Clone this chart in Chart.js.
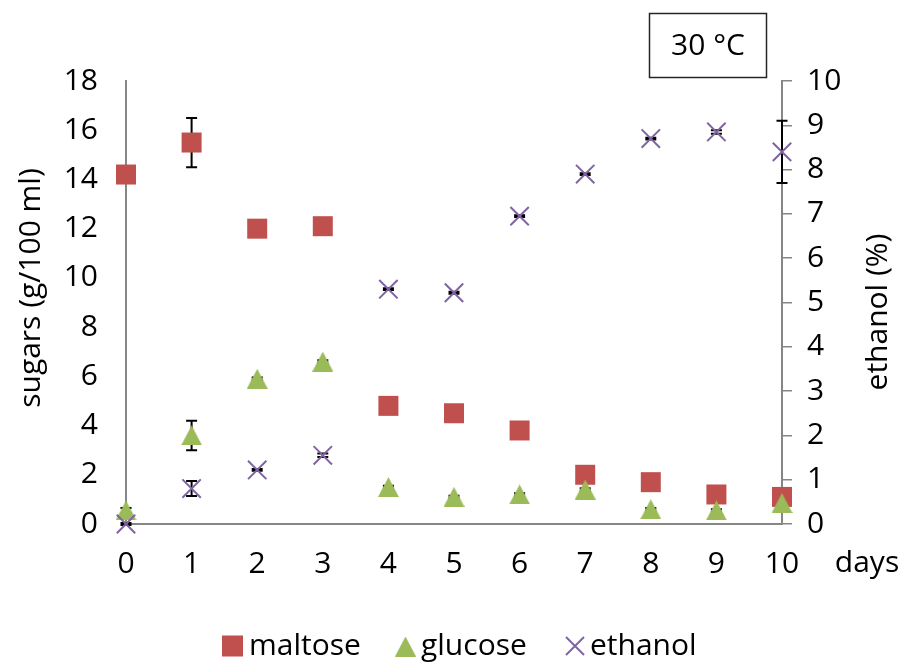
<!DOCTYPE html>
<html>
<head>
<meta charset="utf-8">
<script src="https://cdn.jsdelivr.net/npm/chart.js@4/dist/chart.umd.min.js"></script>
<style>
  html, body { margin: 0; padding: 0; background: #fff; }
  #wrap { width: 904px; height: 666px; }
</style>
</head>
<body>
<div id="wrap"><canvas id="chart" width="904" height="666"></canvas></div>
<script>
// values
var days       = [0, 1, 2, 3, 4, 5, 6, 7, 8, 9, 10];
var maltose    = [14.2, 15.5, 12.0, 12.1, 4.8, 4.5, 3.8, 2.0, 1.7, 1.2, 1.1];
var maltoseErr = [0.05, 1.0, 0.05, 0.1, 0.05, 0.05, 0.05, 0.05, 0.05, 0.05, 0.05];
var glucose    = [0.55, 3.6, 5.9, 6.6, 1.5, 1.1, 1.2, 1.4, 0.6, 0.55, 0.85];
var glucoseErr = [0.1, 0.6, 0.05, 0.05, 0.05, 0.05, 0.05, 0.05, 0.05, 0.05, 0.05];
var ethanol    = [0, 0.8, 1.22, 1.55, 5.3, 5.22, 6.95, 7.9, 8.7, 8.85, 8.4];
var ethanolErr = [0.02, 0.17, 0.02, 0.04, 0.02, 0.02, 0.02, 0.02, 0.02, 0.04, 0.7];

var FONT  = "'Open Sans', 'Noto Sans', sans-serif";
var GREY  = '#868686';
var RED   = '#C0504D';
var GREEN = '#9BBB59';
var VIOLET = '#8064A2';

function pts(ys) {
  return days.map(function(d, i){ return { x: d, y: ys[i] }; });
}

// triangle marker centred on its box, like the spreadsheet one
function triangle(w, h, color) {
  var c = document.createElement('canvas');
  c.width = w; c.height = h;
  var g = c.getContext('2d');
  g.fillStyle = color;
  g.beginPath();
  g.moveTo(w / 2, 0);
  g.lineTo(w, h);
  g.lineTo(0, h);
  g.closePath();
  g.fill();
  return c;
}
var triImg = triangle(21, 20, GREEN);

// ── error bars, titles, legend ───────────────────
var extras = {
  id: 'extras',
  beforeDatasetsDraw: function(chart) {
    var ctx = chart.ctx;
    ctx.save();
    ctx.strokeStyle = '#000';
    ctx.lineWidth = 2;
    chart.data.datasets.forEach(function(ds) {
      var ys = chart.scales[ds.yAxisID];
      ds.data.forEach(function(p, i) {
        var e = ds.err[i];
        var x = chart.scales.x.getPixelForValue(p.x);
        var top = ys.getPixelForValue(p.y + e);
        var bot = ys.getPixelForValue(p.y - e);
        ctx.beginPath();
        ctx.moveTo(x, top); ctx.lineTo(x, bot);
        ctx.moveTo(x - 5.5, top); ctx.lineTo(x + 5.5, top);
        ctx.moveTo(x - 5.5, bot); ctx.lineTo(x + 5.5, bot);
        ctx.stroke();
      });
    });
    ctx.restore();
  },
  afterDraw: function(chart) {
    var ctx = chart.ctx;
    ctx.save();
    ctx.fillStyle = '#000';
    ctx.font = '30px ' + FONT;
    ctx.textBaseline = 'middle';

    // temperature box
    ctx.strokeStyle = '#262626';
    ctx.lineWidth = 1.5;
    ctx.strokeRect(649.5, 13.5, 117, 64);
    ctx.textAlign = 'center';
    ctx.fillText('30 °C', 708, 46);

    // x unit
    ctx.fillText('days', 867, 563);

    // axis titles
    ctx.save();
    ctx.translate(31, 288);
    ctx.rotate(-Math.PI / 2);
    ctx.fillText('sugars (g/100 ml)', 0, 0);
    ctx.restore();
    ctx.save();
    ctx.translate(878, 312);
    ctx.rotate(-Math.PI / 2);
    ctx.fillText('ethanol (%)', 0, 0);
    ctx.restore();

    // legend
    var ly = 646;
    ctx.textAlign = 'left';
    ctx.fillStyle = RED;
    ctx.fillRect(222, ly - 10.5, 21, 21);
    ctx.drawImage(triImg, 395, ly - 9.5);
    ctx.strokeStyle = VIOLET;
    ctx.lineWidth = 2;
    ctx.beginPath();
    ctx.moveTo(566, ly - 9); ctx.lineTo(584, ly + 9);
    ctx.moveTo(584, ly - 9); ctx.lineTo(566, ly + 9);
    ctx.stroke();
    ctx.fillStyle = '#000';
    ctx.fillText('maltose', 249, ly);
    ctx.fillText('glucose', 421, ly);
    ctx.fillText('ethanol', 590, ly);
    ctx.restore();
  }
};

new Chart(document.getElementById('chart'), {
  type: 'scatter',
  data: {
    datasets: [{
      label: 'maltose',
      data: pts(maltose),
      err: maltoseErr,
      yAxisID: 'y',
      order: 3,
      clip: false,
      pointStyle: 'rect',
      pointRadius: 14.14,
      backgroundColor: RED,
      borderColor: RED,
      borderWidth: 0
    }, {
      label: 'glucose',
      data: pts(glucose),
      err: glucoseErr,
      yAxisID: 'y',
      order: 2,
      clip: false,
      pointStyle: triImg,
      pointRadius: 11,
      backgroundColor: GREEN,
      borderColor: GREEN
    }, {
      label: 'ethanol',
      data: pts(ethanol),
      err: ethanolErr,
      yAxisID: 'y1',
      order: 1,
      clip: false,
      pointStyle: 'crossRot',
      pointRadius: 13,
      borderWidth: 2,
      borderColor: VIOLET,
      backgroundColor: VIOLET
    }]
  },
  options: {
    responsive: false,
    animation: false,
    events: [],
    layout: { padding: { top: 81, left: 0, right: 0, bottom: 0 } },
    plugins: {
      legend: { display: false },
      tooltip: { enabled: false }
    },
    scales: {
      x: {
        type: 'linear',
        min: 0, max: 10,
        afterFit: function(s){ s.height = 142; },
        ticks: { stepSize: 1, color: '#000', padding: 22, font: { family: FONT, size: 30 } },
        grid: { display: false, drawTicks: false },
        border: { display: true, color: GREY, width: 2 }
      },
      y: {
        position: 'left',
        min: 0, max: 18,
        afterFit: function(s){ s.width = 126; },
        ticks: { stepSize: 2, color: '#000', padding: 28, font: { family: FONT, size: 30 } },
        grid: { display: false, drawTicks: false },
        border: { display: true, color: GREY, width: 2 }
      },
      y1: {
        position: 'right',
        min: 0, max: 10,
        afterFit: function(s){ s.width = 122; },
        ticks: { stepSize: 1, color: '#000', padding: 15, font: { family: FONT, size: 30 } },
        grid: { display: true, drawOnChartArea: false, drawTicks: true, tickLength: 10, color: GREY, lineWidth: 1.5 },
        border: { display: true, color: GREY, width: 2 }
      }
    }
  },
  plugins: [extras]
});
</script>
</body>
</html>
